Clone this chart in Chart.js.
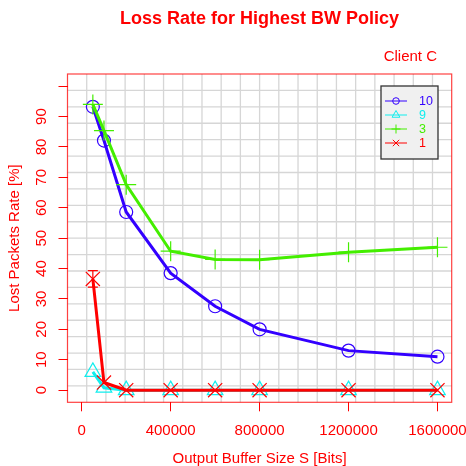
<!DOCTYPE html>
<html>
<head>
<meta charset="utf-8">
<script src="https://cdn.jsdelivr.net/npm/chart.js@4"></script>
<style>
  body { margin: 0; background: #fff; }
  canvas { display: block; }
</style>
</head>
<body>
<canvas id="lossChart" width="466" height="466"></canvas>
<script>

// buffer sizes (bits)
const bufferSizes = [50000, 100000, 200000, 400000, 600000, 800000, 1200000, 1600000];

// lost packets rate [%] per client count
const loss10 = [93.2, 82.1, 58.6, 38.5, 27.6, 20.0, 13.0, 11.0];
const loss9 = [6.0, 0.8, 0, 0, 0, 0, 0, 0];
const loss3 = [94.0, 85.4, 67.6, 45.7, 43.0, 42.9, 45.4, 47.0];
const loss1 = [36.6, 2.5, 0, 0, 0, 0, 0, 0];
const loss1Err = [2.7, 0, 0, 0, 0, 0, 0, 0];

const seriesNames = ["10", "9", "3", "1"];

const xTicks = [0, 400000, 800000, 1200000, 1600000];
const yTicks = [0, 10, 20, 30, 40, 50, 60, 70, 80, 90, 100];
const yTickLabels = ["0", "10", "20", "30", "40", "50", "60", "70", "80", "90"];

const FONT = "'Liberation Sans', Arial, sans-serif";
const RED = "#ff0000";
const colors = ["#3300ff", "#11eeee", "#44ee00", "#ff0000"];
const styles = ["circle", "triangle", "cross", "crossRot"];
const radii = [6.5, 9, 10, 10];

function points(values) {
    return values.map((v, i) => ({ x: bufferSizes[i], y: v }));
}

const seriesData = [loss10, loss9, loss3, loss1];

const datasets = seriesData.map((values, i) => ({
    label: seriesNames[i],
    data: points(values),
    borderColor: colors[i],
    borderWidth: 3,
    pointStyle: styles[i],
    pointRadius: radii[i],
    pointBorderColor: colors[i],
    pointBackgroundColor: "rgba(0,0,0,0)",
    pointBorderWidth: 1.2,
    tension: 0,
    fill: false,
    order: 3 - i
}));

// little shapes for the legend
function drawMark(ctx, style, cx, cy, r) {
    ctx.beginPath();
    if (style === "circle") {
        ctx.arc(cx, cy, r, 0, Math.PI * 2);
    } else if (style === "triangle") {
        ctx.moveTo(cx, cy - r);
        ctx.lineTo(cx + r * 0.866, cy + r / 2);
        ctx.lineTo(cx - r * 0.866, cy + r / 2);
        ctx.closePath();
    } else if (style === "cross") {
        ctx.moveTo(cx - r, cy); ctx.lineTo(cx + r, cy);
        ctx.moveTo(cx, cy - r); ctx.lineTo(cx, cy + r);
    } else {
        const d = r * 0.707;
        ctx.moveTo(cx - d, cy - d); ctx.lineTo(cx + d, cy + d);
        ctx.moveTo(cx - d, cy + d); ctx.lineTo(cx + d, cy - d);
    }
    ctx.stroke();
}

const rStyle = {
    id: "rStyle",

    beforeDatasetsDraw(chart) {
        const { ctx, chartArea: a, scales: { x, y } } = chart;
        ctx.save();
        ctx.strokeStyle = "#d6d6d6";
        ctx.lineWidth = 1.3;
        ctx.beginPath();
        for (let i = 1; i < 20; i++) {
            const px = x.getPixelForValue(x.min + (x.max - x.min) * i / 20);
            const py = y.getPixelForValue(y.min + (y.max - y.min) * i / 20);
            ctx.moveTo(px, a.top); ctx.lineTo(px, a.bottom);
            ctx.moveTo(a.left, py); ctx.lineTo(a.right, py);
        }
        ctx.stroke();
        ctx.restore();
    },

    afterDatasetsDraw(chart) {
        const { ctx, chartArea: a, scales: { x, y } } = chart;
        ctx.save();

        // error bar on the single client series
        ctx.strokeStyle = colors[3];
        ctx.lineWidth = 1.2;
        loss1Err.forEach((e, i) => {
            if (!e) return;
            const px = x.getPixelForValue(bufferSizes[i]);
            const y1 = y.getPixelForValue(loss1[i] - e);
            const y2 = y.getPixelForValue(loss1[i] + e);
            ctx.beginPath();
            ctx.moveTo(px, y1); ctx.lineTo(px, y2);
            ctx.moveTo(px - 5, y1); ctx.lineTo(px + 5, y1);
            ctx.moveTo(px - 5, y2); ctx.lineTo(px + 5, y2);
            ctx.stroke();
        });

        // box
        ctx.strokeStyle = "rgba(255,0,0,0.75)";
        ctx.lineWidth = 1.2;
        ctx.strokeRect(a.left, a.top, a.right - a.left, a.bottom - a.top);

        // legend
        const lx = 381, ly = 86, lw = 57, lh = 73;
        ctx.fillStyle = "#f0f0f0";
        ctx.fillRect(lx, ly, lw, lh);
        ctx.strokeStyle = "#333333";
        ctx.lineWidth = 1.3;
        ctx.strokeRect(lx, ly, lw, lh);
        ctx.font = "12.5px " + FONT;
        ctx.textAlign = "left";
        ctx.textBaseline = "middle";
        seriesNames.forEach((name, i) => {
            const ry = ly + 15 + i * 14;
            ctx.strokeStyle = colors[i];
            ctx.lineWidth = 1;
            ctx.beginPath();
            ctx.moveTo(lx + 4, ry); ctx.lineTo(lx + 26, ry);
            ctx.stroke();
            drawMark(ctx, styles[i], lx + 15, ry, i === 0 ? 3.3 : 4.5);
            ctx.fillStyle = colors[i];
            ctx.fillText(name, lx + 38, ry + 0.5);
        });

        ctx.restore();
    },

    afterDraw(chart) {
        const { ctx, chartArea: a, scales: { x, y } } = chart;
        const midX = (a.left + a.right) / 2;
        const midY = (a.top + a.bottom) / 2;
        ctx.save();
        ctx.fillStyle = RED;
        ctx.textBaseline = "middle";

        ctx.font = "bold 18px " + FONT;
        ctx.textAlign = "center";
        ctx.fillText("Loss Rate for Highest BW Policy", midX, 19);

        ctx.font = "15px " + FONT;
        ctx.textAlign = "right";
        ctx.fillText("Client C", 437, 57);

        ctx.textAlign = "center";
        xTicks.forEach(v => {
            ctx.fillText(String(v), x.getPixelForValue(v), 431);
        });
        ctx.fillText("Output Buffer Size S [Bits]", midX, 459);

        yTickLabels.forEach(t => {
            ctx.save();
            ctx.translate(42, y.getPixelForValue(Number(t)));
            ctx.rotate(-Math.PI / 2);
            ctx.fillText(t, 0, 0);
            ctx.restore();
        });

        ctx.save();
        ctx.translate(15, midY);
        ctx.rotate(-Math.PI / 2);
        ctx.fillText("Lost Packets Rate [%]", 0, 0);
        ctx.restore();

        ctx.restore();
    }
};

const ctx = document.getElementById("lossChart");

new Chart(ctx, {
    type: "line",
    data: { datasets: datasets },
    options: {
        responsive: false,
        animation: false,
        devicePixelRatio: 1,
        layout: {
            padding: { top: 74, right: 14.3, left: 0, bottom: 0 }
        },
        plugins: {
            legend: { display: false },
            title: { display: false },
            tooltip: { enabled: false }
        },
        scales: {
            x: {
                type: "linear",
                min: -64000,
                max: 1664000,
                afterBuildTicks: scale => {
                    scale.ticks = xTicks.map(v => ({ value: v }));
                },
                afterFit: scale => { scale.height = 63.7; },
                ticks: { display: false },
                grid: {
                    drawOnChartArea: false,
                    drawTicks: true,
                    tickLength: 9,
                    color: RED,
                    lineWidth: 1
                },
                border: { display: false }
            },
            y: {
                type: "linear",
                min: -4,
                max: 104,
                afterBuildTicks: scale => {
                    scale.ticks = yTicks.map(v => ({ value: v }));
                },
                afterFit: scale => { scale.width = 67.5; },
                ticks: { display: false },
                grid: {
                    drawOnChartArea: false,
                    drawTicks: true,
                    tickLength: 9,
                    color: RED,
                    lineWidth: 1
                },
                border: { display: false }
            }
        }
    },
    plugins: [rStyle]
});

</script>
</body>
</html>
